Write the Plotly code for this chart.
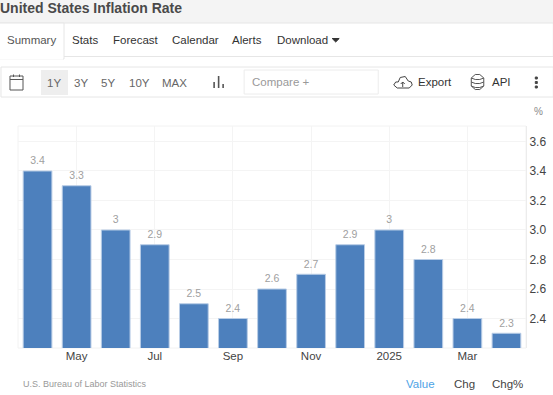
import plotly.graph_objects as go

W, H = 553, 395
L, R, T, B = 18, 525.7, 126, 348

months = ["Apr 2024", "May 2024", "Jun 2024", "Jul 2024", "Aug 2024", "Sep 2024", "Oct 2024",
          "Nov 2024", "Dec 2024", "Jan 2025", "Feb 2025", "Mar 2025", "Apr 2025"]
values = [3.4, 3.3, 3.0, 2.9, 2.5, 2.4, 2.6, 2.7, 2.9, 3.0, 2.8, 2.4, 2.3]
value_labels = ["3.4", "3.3", "3", "2.9", "2.5", "2.4", "2.6", "2.7", "2.9", "3", "2.8", "2.4", "2.3"]
x_tick_months = ["May 2024", "Jul 2024", "Sep 2024", "Nov 2024", "Jan 2025", "Mar 2025"]
x_tick_labels = ["May", "Jul", "Sep", "Nov", "2025", "Mar"]
y_ticks = [2.4, 2.6, 2.8, 3.0, 3.2, 3.4, 3.6]

BAR = "#4d80bd"
FONT = "Liberation Sans, Arial, sans-serif"


def px(x):
    return (x - L) / (R - L)


def py(y):
    return (B - y) / (B - T)


fig = go.Figure()
fig.add_trace(go.Bar(
    x=months, y=values, cliponaxis=False,
    marker=dict(color=BAR, line=dict(color="#b9cde6", width=1)),
    width=0.735,
))
fig.add_trace(go.Scatter(
    x=months, y=values, text=value_labels, mode="markers+text", textposition="top center",
    marker=dict(size=5, color="rgba(0,0,0,0)"), cliponaxis=False,
    textfont=dict(family=FONT, size=10.5, color="#a0a0a0"),
))

shapes = []
ann = []


def rect(x0, y0, x1, y1, fill="rgba(0,0,0,0)", line="rgba(0,0,0,0)", w=1):
    shapes.append(dict(type="rect", xref="paper", yref="paper", x0=px(x0), x1=px(x1),
                       y0=py(y1), y1=py(y0), fillcolor=fill, line=dict(color=line, width=w), layer="below"))


def text(x, y, s, size=12, color="#333333", anchor="left"):
    ann.append(dict(xref="paper", yref="paper", x=px(x), y=py(y), text=s, showarrow=False,
                    xanchor=anchor, yanchor="middle",
                    font=dict(family=FONT, size=size, color=color), borderpad=0, borderwidth=0))


def path(points, line="#444444", w=1.2, fill="rgba(0,0,0,0)"):
    d = "M" + " L".join(f"{px(a):.5f},{py(b):.5f}" for a, b in points)
    shapes.append(dict(type="path", xref="paper", yref="paper", path=d,
                       line=dict(color=line, width=w), fillcolor=fill, layer="above"))


# page chrome
rect(0, 0, 553, 23, fill="#f4f4f4")
rect(0, 23, 553, 56.5, fill="#ffffff", line="#e6e6e6")
rect(-2, 23, 64, 59, fill="#ffffff", line="#e6e6e6")
shapes.append(dict(type="line", xref="paper", yref="paper", x0=px(0), x1=px(63), y0=py(58), y1=py(58),
                   line=dict(color="#ffffff", width=3), layer="below"))
rect(1, 67, 553, 97, fill="#ffffff", line="#e6e6e6")
rect(41, 70, 68, 95, fill="#eeeeee")
rect(244, 70, 378, 94, fill="#ffffff", line="#ececec")
rect(L, T, R, B, line="#f2f2f2")

text(0, 8.5, "<b>United States Inflation Rate</b>", 14, "#4a4a4a")
for x, s, c in [(7, "Summary", "#555555"), (72, "Stats", "#333333"), (113, "Forecast", "#333333"),
                (172, "Calendar", "#333333"), (232, "Alerts", "#333333"), (277, "Download", "#333333")]:
    text(x, 40, s, 11.5, c)
path([(332, 38.5), (339, 38.5), (335.5, 42), (332, 38.5)], line="#333333", w=1, fill="#333333")

for x, s in [(47, "1Y"), (74, "3Y"), (101, "5Y"), (129, "10Y"), (162, "MAX")]:
    text(x, 83, s, 11.5, "#666666")
text(252, 82.5, "Compare +", 11.5, "#999999")
text(418, 82.5, "Export", 11.5, "#333333")
text(492, 82.5, "API", 11.5, "#333333")

# toolbar icons
rect(10, 76, 23, 90, line="#555555", w=1)
path([(10, 79.5), (23, 79.5)], line="#555555", w=1)
path([(13.5, 74.5), (13.5, 77)], line="#555555", w=1)
path([(19.5, 74.5), (19.5, 77)], line="#555555", w=1)
path([(214, 82), (214, 88)], line="#555555", w=1.6)
path([(218.5, 76), (218.5, 88)], line="#555555", w=1.6)
path([(223, 84), (223, 88)], line="#555555", w=1.6)
path([(397, 88), (393.5, 85), (395.5, 82), (398, 82), (400, 77.5), (405, 76.5), (408, 81), (411, 82),
      (412, 85), (409, 88), (397, 88)], line="#444444", w=1)
path([(400.5, 84), (402.5, 82), (404.5, 84)], line="#444444", w=1)
path([(402.5, 82), (402.5, 87)], line="#444444", w=1)
for yy in (78, 82, 86):
    path([(471, yy), (475, yy + 1.5), (479.5, yy + 1.5), (483.5, yy)], line="#555555", w=1)
path([(471, 78), (471, 86), (475, 89.5), (479.5, 89.5), (483.5, 86), (483.5, 78), (479.5, 74.5),
      (475, 74.5), (471, 78)], line="#555555", w=1)
for yy in (78, 82.5, 87):
    path([(535, yy - 1), (537, yy - 1), (537, yy + 1), (535, yy + 1), (535, yy - 1)], line="#444444", w=1,
         fill="#444444")

# footer and unit
text(538, 111, "%", 10, "#888888", "center")
text(23, 383.5, "U.S. Bureau of Labor Statistics", 9, "#999999")
text(406, 383.5, "Value", 11.5, "#4da3e6")
text(453.5, 383.5, "Chg", 11.5, "#444444")
text(492, 383.5, "Chg%", 11.5, "#444444")

fig.update_layout(
    width=W, height=H, margin=dict(l=L, r=W - R, t=T, b=H - B, pad=0, autoexpand=False),
    paper_bgcolor="#ffffff", plot_bgcolor="#ffffff", showlegend=False,
    shapes=shapes, annotations=ann,
    xaxis=dict(type="category", categoryorder="array", categoryarray=months, range=[-0.5, 12.5],
               automargin=False, ticklabelstandoff=-1,
               tickmode="array", tickvals=x_tick_months, ticktext=x_tick_labels,
               showgrid=True, gridcolor="#f4f4f4", ticks="", ticklen=0, showline=False, zeroline=False,
               tickfont=dict(family=FONT, size=11.5, color="#444444")),
    yaxis=dict(side="right", range=[2.2, 3.705], tickmode="array", tickvals=y_ticks, automargin=False,
               tickformat=".1f", showgrid=True, gridcolor="#f4f4f4", zeroline=False,
               showline=True, linecolor="#ececec", ticks="", ticklabelposition="outside",
               tickfont=dict(family=FONT, size=12, color="#444444")),
)

fig.write_html("out.html", config=dict(displayModeBar=False),
               post_script="document.body.style.margin='0';document.documentElement.style.overflow='hidden';window.dispatchEvent(new Event('resize'));")
